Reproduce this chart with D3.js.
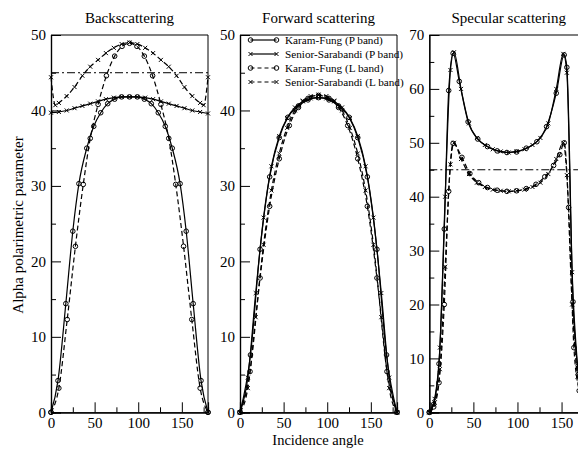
<!DOCTYPE html>
<html>
<head>
<meta charset="utf-8">
<script src="https://cdn.jsdelivr.net/npm/d3@7"></script>
<style>
html,body{margin:0;padding:0;background:#fff;}
svg{display:block;font-family:"Liberation Serif","Times New Roman",serif;}
</style>
</head>
<body>
<svg id="chart" width="578" height="450"></svg>
<script>
// ---------- DATA ----------
const panelTitles = ["Backscattering", "Forward scattering", "Specular scattering"];
const seriesNames = ["Karam-Fung (P band)", "Senior-Sarabandi (P band)", "Karam-Fung (L band)", "Senior-Sarabandi (L band)"];
const yMaxes = [50, 50, 70];
const xTicksMajor = [0, 50, 100, 150];
const xTicksMinor = [25, 75, 125, 175];
const refLine = 45; // dash-dot reference level (panels 1 and 3)

// Backscattering
const bsKFP_ang = [0, 8, 17, 25, 32, 41, 49, 57, 65, 73, 81, 90, 99, 107, 115, 123, 131, 139, 148, 155, 163, 172, 180];
const bsKFP_val = [0, 4.2, 14.4, 24.0, 30.3, 35.0, 37.9, 39.7, 40.9, 41.5, 41.8, 41.8, 41.8, 41.5, 40.9, 39.7, 37.9, 35.0, 30.3, 24.0, 14.4, 4.2, 0];
const bsSSP_ang = [0, 9, 18, 27, 36, 45, 54, 63, 72, 81, 90, 99, 108, 117, 126, 135, 144, 153, 162, 171, 180];
const bsSSP_val = [39.7, 39.8, 40.0, 40.3, 40.6, 40.9, 41.2, 41.5, 41.7, 41.8, 41.8, 41.8, 41.7, 41.5, 41.2, 40.9, 40.6, 40.3, 40.0, 39.8, 39.6];
const bsKFL_ang = [0, 9, 18.6, 28, 37, 45, 54, 63.5, 73, 81.5, 90, 98.5, 107, 116.5, 126, 135, 143, 152, 161.4, 171, 180];
const bsKFL_val = [0, 3.2, 12.3, 22.0, 30.2, 36.3, 40.8, 44.6, 47.2, 48.5, 48.9, 48.5, 47.2, 44.6, 40.8, 36.3, 30.2, 22.0, 12.3, 3.2, 0];
const bsSSL_ang = [0, 5, 9, 18, 27, 36, 45, 54, 63, 72, 81, 90, 99, 108, 117, 126, 135, 144, 153, 162, 171, 175, 180];
const bsSSL_val = [44.4, 40.7, 41.0, 41.9, 43.1, 44.6, 45.8, 46.7, 47.6, 48.3, 48.8, 49.0, 48.8, 48.3, 47.6, 46.7, 45.8, 44.6, 43.1, 41.9, 41.0, 40.7, 44.4];

// Forward scattering
const fwKFP_ang = [0, 12, 23, 34, 45, 55, 67, 78, 90, 102, 113, 125, 135, 146, 157, 168, 180];
const fwKFP_val = [0, 7.6, 21.6, 31.2, 36.4, 39.1, 40.6, 41.4, 41.7, 41.4, 40.6, 39.1, 36.4, 31.2, 21.6, 7.6, 0];
const fwSS_ang = [0, 9, 18, 27, 36, 45, 54, 63, 72, 81, 90, 99, 108, 117, 126, 135, 144, 153, 162, 171, 180];
const fwSSP_val = [0, 4.6, 15.8, 25.8, 32.6, 36.6, 39.0, 40.4, 41.2, 41.6, 41.7, 41.6, 41.2, 40.4, 39.0, 36.6, 32.6, 25.8, 15.8, 4.6, 0];
const fwKFL_ang = [0, 11.5, 23, 34, 45, 56.5, 67, 78, 90, 102, 113, 123.5, 135, 146, 157, 168.5, 180];
const fwKFL_val = [0, 5.4, 17.8, 27.3, 33.6, 38.0, 40.4, 41.6, 42.0, 41.6, 40.4, 38.0, 33.6, 27.3, 17.8, 5.4, 0];
const fwSSL_val = [0, 3.2, 12.6, 22.2, 29.4, 34.3, 37.7, 40.0, 41.3, 41.9, 42.1, 41.9, 41.3, 40.0, 37.7, 34.3, 29.4, 22.2, 12.6, 3.2, 0];

// Specular scattering
const spKFP_ang = [0, 5, 11, 17, 22, 27, 34, 44, 55, 66, 77, 88, 99, 110, 122, 133, 144, 153, 156, 163, 169, 175, 180];
const spKFP_val = [0, 1.5, 9.0, 34.0, 59.7, 66.6, 61.4, 53.9, 50.7, 49.3, 48.5, 48.2, 48.3, 49.0, 50.2, 53.0, 59.2, 66.3, 64.0, 20.5, 7.0, 1.5, 0];
const spSS_ang = [0, 6, 12, 18, 24, 28, 36, 45, 54, 63, 72, 81, 90, 99, 108, 117, 126, 135, 144, 152, 156, 162, 168, 174, 180];
const spSSP_val = [0, 2.5, 12.0, 40.0, 63.5, 66.8, 60.0, 53.6, 50.9, 49.6, 48.8, 48.4, 48.2, 48.4, 48.8, 49.6, 50.9, 53.6, 60.0, 66.5, 63.0, 26.0, 9.0, 2.0, 0];
const spKFL_ang = [0, 5, 11, 17, 22, 27, 37, 46, 56, 66, 77, 88, 99, 110, 121, 131, 141, 148, 153, 158, 164, 170, 175, 180];
const spKFL_val = [0, 1.0, 5.5, 20.0, 41.0, 49.9, 47.3, 44.3, 42.6, 41.7, 41.2, 41.0, 41.1, 41.5, 42.3, 43.7, 45.8, 47.8, 50.0, 38.0, 12.0, 4.0, 1.0, 0];
const spSSL_val = [0, 1.8, 8.0, 27.0, 46.0, 50.0, 47.0, 44.2, 42.6, 41.8, 41.3, 41.1, 41.0, 41.1, 41.3, 41.8, 42.6, 44.2, 47.0, 50.0, 44.0, 20.0, 6.6, 1.5, 0];

// ---------- LAYOUT ----------
const svg = d3.select("#chart");
const plotTop = 35, plotBottom = 412.3;
const panelX = [[51, 208], [240, 397], [429.3, 588]];
const fontTick = 15;
const serif = "Liberation Serif";

function zip(a, v) { return a.map((d, i) => ({x: d, y: v[i]})); }

const panelData = [
  [
    {pts: zip(bsKFP_ang, bsKFP_val), dash: null, mark: "o"},
    {pts: zip(bsSSP_ang, bsSSP_val), dash: null, mark: "x"},
    {pts: zip(bsKFL_ang, bsKFL_val), dash: "5,3", mark: "o"},
    {pts: zip(bsSSL_ang, bsSSL_val), dash: "5,3", mark: "x"}
  ],
  [
    {pts: zip(fwKFP_ang, fwKFP_val), dash: null, mark: "o"},
    {pts: zip(fwSS_ang, fwSSP_val), dash: null, mark: "x"},
    {pts: zip(fwKFL_ang, fwKFL_val), dash: "5,3", mark: "o"},
    {pts: zip(fwSS_ang, fwSSL_val), dash: "5,3", mark: "x"}
  ],
  [
    {pts: zip(spKFP_ang, spKFP_val), dash: null, mark: "o"},
    {pts: zip(spSS_ang, spSSP_val), dash: null, mark: "x"},
    {pts: zip(spKFL_ang, spKFL_val), dash: "5,3", mark: "o"},
    {pts: zip(spSS_ang, spSSL_val), dash: "5,3", mark: "x"}
  ]
];
const showRef = [true, false, true];

function drawMarker(g, type, cx, cy) {
  if (type === "o") {
    g.append("circle").attr("cx", cx).attr("cy", cy).attr("r", 2.3)
      .attr("fill", "none").attr("stroke", "#000").attr("stroke-width", 1);
  } else {
    const s = 2;
    g.append("path").attr("d", `M${cx - s},${cy - s}L${cx + s},${cy + s}M${cx - s},${cy + s}L${cx + s},${cy - s}`)
      .attr("stroke", "#000").attr("stroke-width", 1);
  }
}

panelData.forEach((series, p) => {
  const x = d3.scaleLinear().domain([0, 180]).range(panelX[p]);
  const y = d3.scaleLinear().domain([0, yMaxes[p]]).range([plotBottom, plotTop]);
  const g = svg.append("g");

  // title
  svg.append("text").attr("x", (panelX[p][0] + panelX[p][1]) / 2).attr("y", 23)
    .attr("text-anchor", "middle").attr("font-size", 15).attr("font-family", serif).text(panelTitles[p]);

  // frame: top and right
  g.append("line").attr("x1", panelX[p][0]).attr("x2", panelX[p][1]).attr("y1", plotTop).attr("y2", plotTop)
    .attr("stroke", "#000").attr("stroke-width", 1.2);
  g.append("line").attr("x1", panelX[p][1]).attr("x2", panelX[p][1]).attr("y1", plotTop).attr("y2", plotBottom)
    .attr("stroke", "#000").attr("stroke-width", 1);

  // reference dash-dot line
  if (showRef[p]) {
    g.append("line").attr("x1", x(0)).attr("x2", x(180)).attr("y1", y(refLine)).attr("y2", y(refLine))
      .attr("stroke", "#000").attr("stroke-width", 1).attr("stroke-dasharray", "8,3,2,3");
  }

  // curves
  const line = d3.line().x(d => x(d.x)).y(d => y(d.y)).curve(d3.curveMonotoneX);
  series.forEach(s => {
    g.append("path").attr("d", line(s.pts)).attr("fill", "none").attr("stroke", "#000")
      .attr("stroke-width", 1.2).attr("stroke-dasharray", s.dash);
  });
  series.forEach(s => {
    s.pts.forEach(d => drawMarker(g, s.mark, x(d.x), y(d.y)));
  });

  // axes
  const yMajor = d3.range(0, yMaxes[p] + 1, 10);
  const yMinor = d3.range(5, yMaxes[p], 10);
  g.append("g").attr("transform", `translate(${panelX[p][0]},0)`)
    .call(d3.axisLeft(y).tickValues(yMajor).tickSize(-10).tickPadding(5).tickFormat(d3.format("d")));
  g.append("g").attr("transform", `translate(${panelX[p][0]},0)`)
    .call(d3.axisLeft(y).tickValues(yMinor).tickSize(-5).tickFormat(""));
  g.append("g").attr("transform", `translate(0,${plotBottom})`)
    .call(d3.axisBottom(x).tickValues(xTicksMajor).tickSize(-10).tickPadding(5).tickFormat(d3.format("d")));
  g.append("g").attr("transform", `translate(0,${plotBottom})`)
    .call(d3.axisBottom(x).tickValues(xTicksMinor).tickSize(-5).tickFormat(""));
  g.selectAll(".domain").attr("stroke", "#000").attr("stroke-width", 1.2);
  g.selectAll(".tick line").attr("stroke", "#000");
  g.selectAll(".tick text").attr("font-size", fontTick).attr("font-family", serif).attr("fill", "#000");
});

// legend (in forward scattering panel)
const legRows = [40, 54, 68, 82];
const legMarks = ["o", "x", "o", "x"];
const legDash = [null, null, "4,3", "4,3"];
const lg = svg.append("g");
seriesNames.forEach((name, i) => {
  lg.append("line").attr("x1", 250.5).attr("x2", 276.5).attr("y1", legRows[i]).attr("y2", legRows[i])
    .attr("stroke", "#000").attr("stroke-width", 1.2).attr("stroke-dasharray", legDash[i]);
  drawMarker(lg, legMarks[i], 250.5, legRows[i]);
  drawMarker(lg, legMarks[i], 276.5, legRows[i]);
  lg.append("text").attr("x", 285).attr("y", legRows[i] + 4).attr("font-size", 11.2)
    .attr("font-family", serif).text(name);
});

// axis titles
svg.append("text").attr("x", 318).attr("y", 445).attr("text-anchor", "middle").attr("font-size", 14.5)
  .attr("font-family", serif).text("Incidence angle");
svg.append("text").attr("transform", "translate(23,225) rotate(-90)").attr("text-anchor", "middle")
  .attr("font-size", 15).attr("font-family", serif).text("Alpha polarimetric parameter");
</script>
</body>
</html>
